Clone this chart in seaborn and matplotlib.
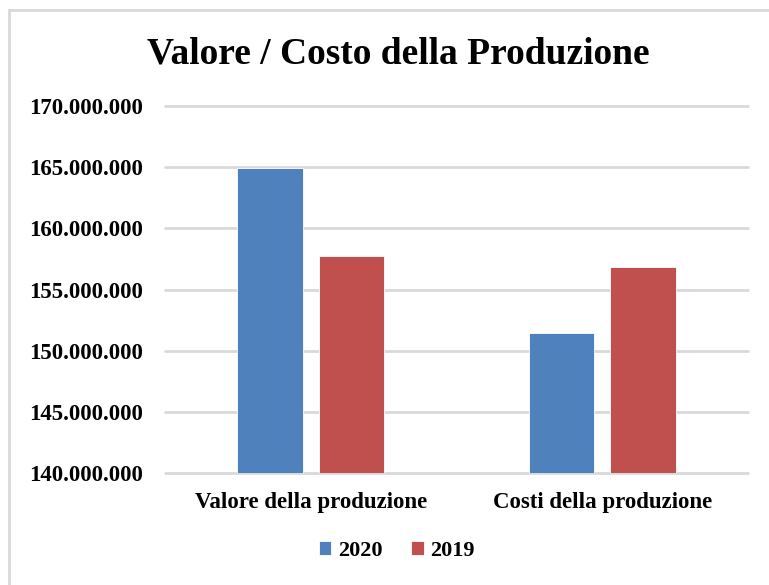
import pandas as pd
import matplotlib
matplotlib.use("Agg")
import matplotlib.pyplot as plt
import matplotlib.ticker as mticker
from matplotlib.patches import Rectangle
import seaborn as sns

# %%
categorie = ["Valore della produzione", "Costi della produzione"]
valori_2020 = [164_900_000, 151_450_000]
valori_2019 = [157_750_000, 156_800_000]
anni = ["2020", "2019"]

df = pd.DataFrame({
    "Voce": categorie * 2,
    "Anno": [anni[0]] * 2 + [anni[1]] * 2,
    "Valore": valori_2020 + valori_2019,
})

# %%
sns.set_style("white")
plt.rcParams["font.family"] = ["Liberation Serif", "DejaVu Serif"]
plt.rcParams["font.weight"] = "bold"
plt.rcParams["text.color"] = "black"
plt.rcParams["xtick.color"] = "black"
plt.rcParams["ytick.color"] = "black"

fig = plt.figure(figsize=(7.69, 5.85), dpi=100)
ax = fig.add_axes([165 / 769, 1 - 473 / 585, (748 - 165) / 769, (473 - 106) / 585])

sns.barplot(data=df, x="Voce", y="Valore", hue="Anno", hue_order=anni,
            palette={"2020": "#4F81BD", "2019": "#C0504D"}, saturation=1,
            width=0.56, gap=0.2, ax=ax, edgecolor="white", linewidth=0.6)

ax.set_ylim(140_000_000, 170_000_000)
ax.set_xlim(-0.5, 1.5)
ax.yaxis.set_major_locator(mticker.MultipleLocator(5_000_000))
ax.yaxis.set_major_formatter(mticker.FuncFormatter(lambda v, p: f"{v:,.0f}".replace(",", ".")))
ax.grid(axis="y", color="#d9d9d9", linewidth=2)
ax.set_axisbelow(True)
for line in ax.get_ygridlines():
    line.set_clip_on(False)
for s in ax.spines.values():
    s.set_visible(False)
ax.tick_params(axis="y", length=0, pad=16, labelsize=16.5)
ax.tick_params(axis="x", length=0, pad=14, labelsize=16.5)
ax.set_xlabel("")
ax.set_ylabel("")

# legend under the plot
handles, labels = ax.get_legend_handles_labels()
ax.get_legend().remove()
fig.legend(handles, labels, loc="center", bbox_to_anchor=(397 / 769, 1 - 551 / 585),
           ncol=2, frameon=False, fontsize=16, handlelength=0.55, handleheight=0.55,
           handletextpad=0.3, columnspacing=1.3)

fig.text(398 / 769, 1 - 54 / 585, "Valore / Costo della Produzione",
         ha="center", va="center", fontsize=27, fontweight="bold")

# outer chart border
fig.patches.append(Rectangle((8.5 / 769, -0.1), 1.2, 1.1 - 10.5 / 585, transform=fig.transFigure,
                             fill=False, edgecolor="#d9d9d9", linewidth=2))

fig.savefig("out.png", dpi=100)
